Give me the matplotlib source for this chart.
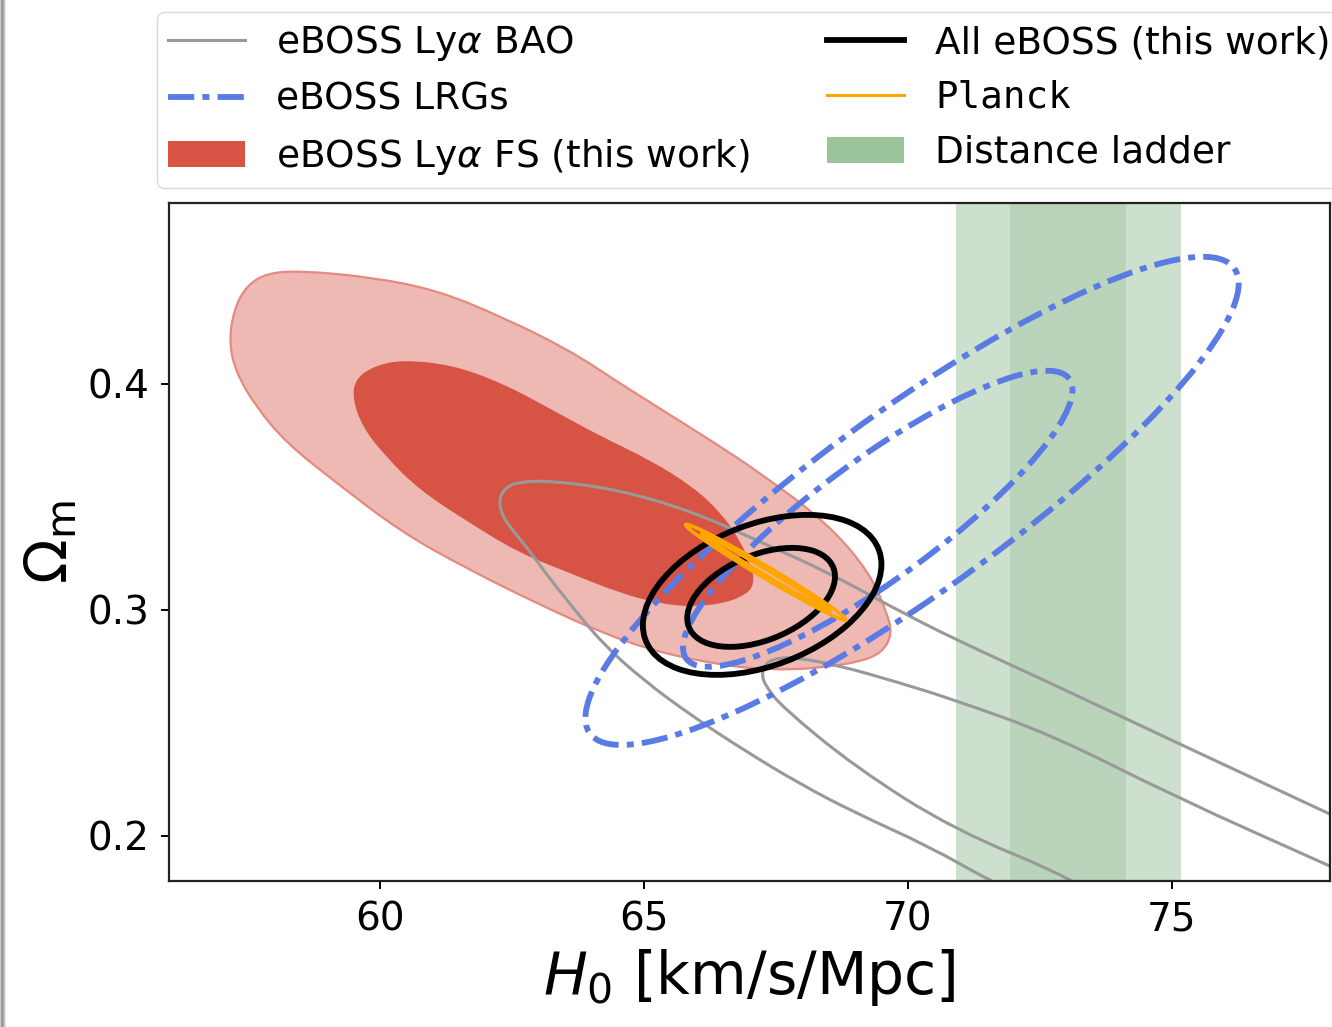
import numpy as np
import matplotlib
matplotlib.use("Agg")
import matplotlib.pyplot as plt
from matplotlib.patches import Circle, PathPatch, Patch
from matplotlib.lines import Line2D
from matplotlib.path import Path
from matplotlib.transforms import Affine2D

# --- eBOSS Lya full-shape contours (H0, Omega_m) ---
fs_outer_h0 = [58.49, 59.79, 61.06, 62.31, 63.58, 64.53, 65.40, 66.25, 67.20, 68.47,
               69.28, 69.62, 69.70, 69.51, 69.09, 68.47, 67.82, 67.20, 66.57, 65.30,
               64.20, 62.95, 61.69, 60.42, 59.17, 58.22, 57.65, 57.27, 57.14, 57.22,
               57.45, 57.85]
fs_outer_om = [0.4500, 0.4473, 0.4416, 0.4296, 0.4150, 0.4004, 0.3876, 0.3752, 0.3606, 0.3385,
               0.3164, 0.2978, 0.2889, 0.2810, 0.2770, 0.2748, 0.2735, 0.2739, 0.2752, 0.2810,
               0.2898, 0.3031, 0.3177, 0.3341, 0.3562, 0.3739, 0.3898, 0.4049, 0.4181, 0.4320,
               0.4430, 0.4490]
fs_inner_h0 = [59.47, 59.55, 59.91, 60.42, 61.36, 62.31, 63.26, 64.20, 65.11, 65.93,
               66.44, 66.82, 67.06, 67.08, 66.95, 66.57, 65.93, 65.30, 64.53, 63.58,
               62.63, 61.69, 60.74, 60.11, 59.66]
fs_inner_om = [0.3942, 0.4027, 0.4080, 0.4106, 0.4084, 0.4004, 0.3885, 0.3765, 0.3664, 0.3544,
               0.3434, 0.3310, 0.3177, 0.3111, 0.3071, 0.3031, 0.3013, 0.3027, 0.3075, 0.3164,
               0.3252, 0.3385, 0.3531, 0.3677, 0.3810]

# --- eBOSS Lya BAO contours (open, run off the plot) ---
bao_outer_h0 = [72.69, 71.52, 70.42, 69.00, 67.95, 66.88, 65.93, 64.98, 64.20, 63.58,
                63.13, 62.82, 62.46, 62.31, 62.25, 62.37, 62.63, 63.26, 64.53, 65.93,
                67.20, 68.47, 69.72, 70.87, 72.73, 75.06, 78.03, 79.32]
bao_outer_om = [0.1668, 0.1805, 0.1951, 0.2102, 0.2230, 0.2381, 0.2527, 0.2690, 0.2854, 0.3031,
                0.3164, 0.3265, 0.3367, 0.3420, 0.3487, 0.3540, 0.3566, 0.3571, 0.3531, 0.3434,
                0.3301, 0.3168, 0.3009, 0.2872, 0.2673, 0.2416, 0.2093, 0.1951]
bao_inner_h0 = [74.02, 73.20, 70.87, 69.00, 67.61, 67.29, 67.23, 67.33, 67.58, 67.88,
                68.64, 69.85, 70.87, 72.73, 75.06, 78.03, 79.32]
bao_inner_om = [0.1673, 0.1805, 0.2027, 0.2305, 0.2571, 0.2668, 0.2721, 0.2770, 0.2788, 0.2788,
                0.2757, 0.2677, 0.2602, 0.2447, 0.2173, 0.1863, 0.1726]

# --- Gaussian-like contours: centre H0, centre Om, sigma H0, sigma Om, correlation ---
lrg_ell = [(70.08, 0.3482, 6.19, 0.1080, 0.89),
           (69.43, 0.3403, 3.69, 0.0655, 0.87)]
all_ell = [(67.24, 0.3066, 2.26, 0.0354, 0.38),
           (67.22, 0.3055, 1.40, 0.0219, 0.42)]
planck_ell = [(67.31, 0.3166, 1.52, 0.0212, -0.990),
              (67.31, 0.3166, 1.22, 0.0170, -0.997)]

# distance ladder H0 bands (1 and 2 sigma)
ladder_1s = (71.93, 74.13)
ladder_2s = (70.91, 75.17)

c_red = '#d75344'
c_pink = '#eeb8b3'
c_pink_edge = '#e48a80'
c_gray = '#999999'
c_blue = '#5a7ae4'
c_orange = '#ffa500'
dashdot = (0, (4.5, 1.4, 1.2, 1.4))

plt.rcParams['font.family'] = 'DejaVu Sans'
plt.rcParams['mathtext.fontset'] = 'dejavusans'

fig = plt.figure(figsize=(13.32, 10.27), dpi=100)
ax = fig.add_axes([169/1332, 146/1027, 1161/1332, 678/1027])


def ellipse(ax, h0, om, sh, so, rho, **kw):
    # unit circle sheared into the correlated ellipse
    m = np.array([[sh, 0.0, h0],
                  [so*rho, so*np.sqrt(1 - rho**2), om],
                  [0.0, 0.0, 1.0]])
    p = Circle((0, 0), 1.0, transform=Affine2D(m) + ax.transData, fill=False, **kw)
    ax.add_patch(p)
    return p


def smooth_path(x, y, closed):
    # quadratic bezier path using the points as control points
    p = np.column_stack([x, y])
    mid = 0.5 * (p + np.roll(p, -1, axis=0))
    if closed:
        verts = [mid[-1]]
        codes = [Path.MOVETO]
        for i in range(len(p)):
            verts += [p[i], mid[i]]
            codes += [Path.CURVE3, Path.CURVE3]
        verts.append(mid[-1])
        codes.append(Path.CLOSEPOLY)
    else:
        verts = [p[0]]
        codes = [Path.MOVETO]
        for i in range(1, len(p) - 1):
            verts += [p[i], mid[i]]
            codes += [Path.CURVE3, Path.CURVE3]
        verts.append(p[-1])
        codes.append(Path.LINETO)
    return Path(verts, codes)


ax.axvspan(*ladder_2s, color='#cde0cd', lw=0, zorder=0)
ax.axvspan(*ladder_1s, color='#bad3bb', lw=0, zorder=0.5)

ax.add_patch(PathPatch(smooth_path(fs_outer_h0, fs_outer_om, True),
                       facecolor=c_pink, edgecolor=c_pink_edge, lw=1.6, zorder=1))
ax.add_patch(PathPatch(smooth_path(fs_inner_h0, fs_inner_om, True),
                       facecolor=c_red, edgecolor='none', zorder=1.1))

for hx, oy in [(bao_outer_h0, bao_outer_om), (bao_inner_h0, bao_inner_om)]:
    ax.add_patch(PathPatch(smooth_path(hx, oy, False), facecolor='none',
                           edgecolor=c_gray, lw=2.2, zorder=2))

for e in lrg_ell:
    ellipse(ax, *e, edgecolor=c_blue, lw=4.2, linestyle=dashdot, zorder=3)
for e in all_ell:
    ellipse(ax, *e, edgecolor='k', lw=4.2, zorder=4)
for e in planck_ell:
    ellipse(ax, *e, edgecolor=c_orange, lw=2.6, zorder=5)

ax.set_xlim(56.0, 78.0)
ax.set_ylim(0.18, 0.48)
ax.set_xticks([60, 65, 70, 75])
ax.set_yticks([0.2, 0.3, 0.4])
ax.tick_params(labelsize=28, length=6, width=1.4, pad=8)
for s in ax.spines.values():
    s.set_linewidth(1.6)
    s.set_color('#222222')
ax.set_xlabel(r'$H_0$ [km/s/Mpc]', fontsize=42, labelpad=6)
ax.set_ylabel(r'$\Omega_{\rm m}$', fontsize=42, labelpad=6)

handles = [Line2D([], [], color=c_gray, lw=2.2),
           Line2D([], [], color=c_blue, lw=4.2, linestyle=dashdot),
           Patch(facecolor=c_red, edgecolor='none'),
           Line2D([], [], color='k', lw=4.2),
           Line2D([], [], color=c_orange, lw=2.2),
           Patch(facecolor='#9bc49b', edgecolor='none')]
labels = [r'eBOSS Ly$\alpha$ BAO', 'eBOSS LRGs', r'eBOSS Ly$\alpha$ FS (this work)',
          'All eBOSS (this work)', 'Planck', 'Distance ladder']
leg = fig.legend(handles, labels, ncol=2, loc='upper left',
                 bbox_to_anchor=(157/1332, 1 - 12/1027), borderaxespad=0, fontsize=27,
                 handlelength=2.05, handletextpad=0.83, columnspacing=2.05,
                 labelspacing=0.5, borderpad=0.3, fancybox=True, edgecolor='#d0d0d0')
leg.get_texts()[4].set_family('DejaVu Sans Mono')

# thin shaded strip down the left edge
strip = fig.add_axes([0, 0, 8/1332, 1])
strip.imshow(np.array([[0.80, 0.62, 0.60, 0.66, 0.78, 0.90, 0.97, 1.0]]),
             cmap='gray', vmin=0, vmax=1, aspect='auto', interpolation='bilinear')
strip.axis('off')

fig.savefig('out.png', dpi=100)
